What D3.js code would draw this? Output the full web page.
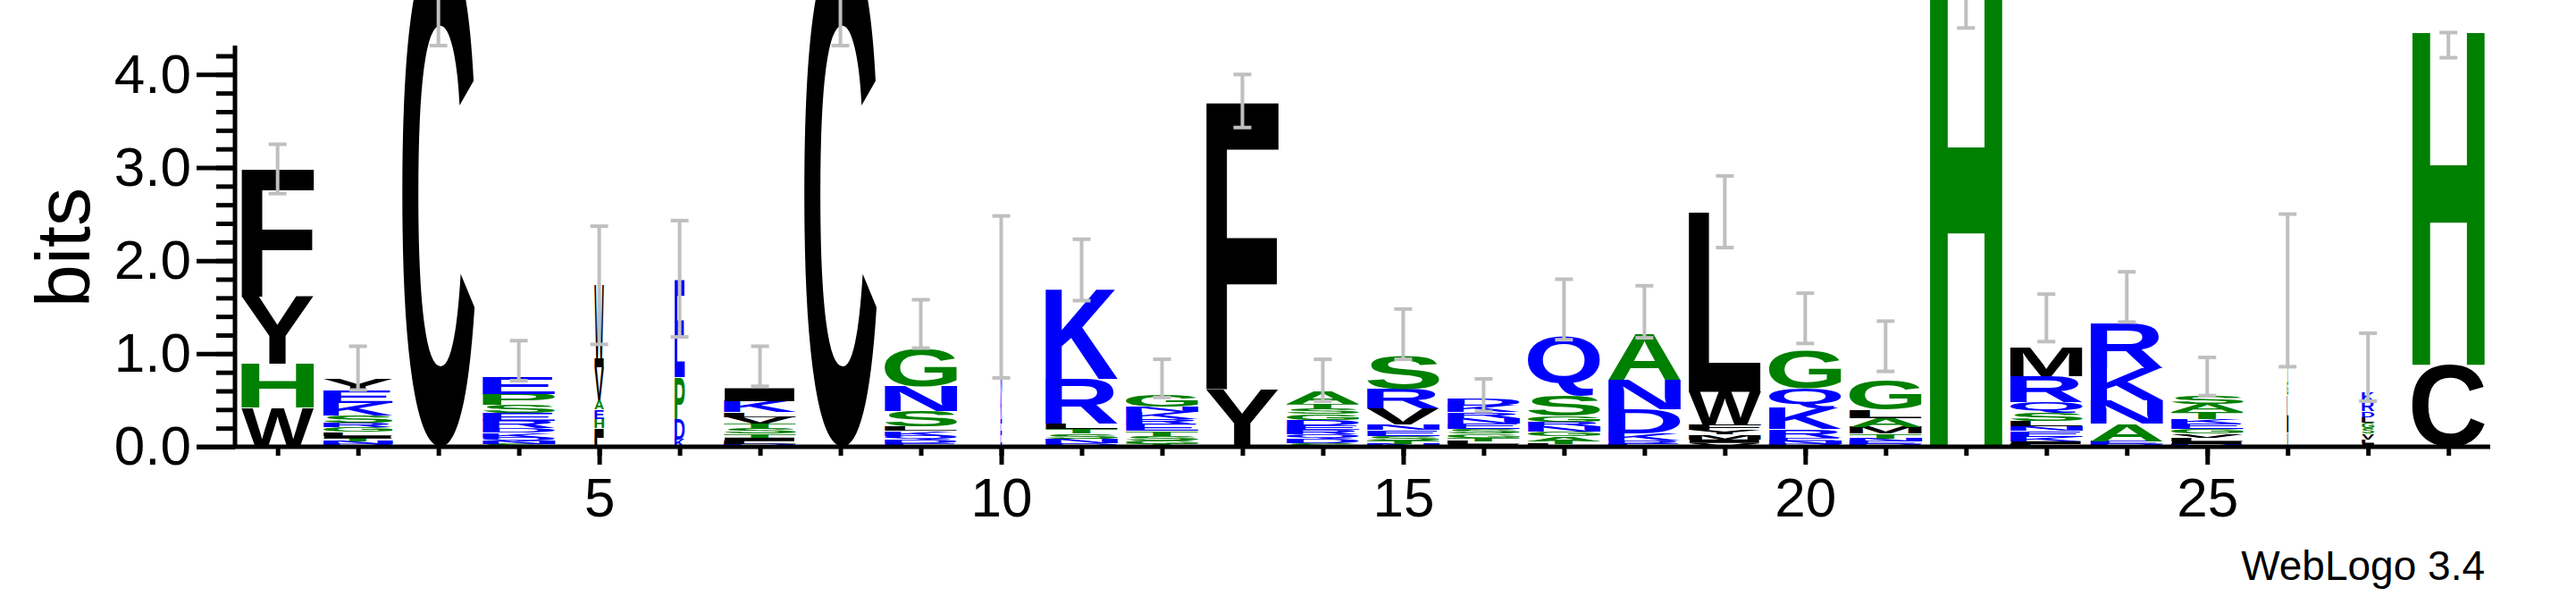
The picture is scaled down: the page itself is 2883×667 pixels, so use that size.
<!DOCTYPE html>
<html>
<head>
<meta charset="utf-8">
<script src="https://cdn.jsdelivr.net/npm/d3@7"></script>
<style>
body { margin: 0; background: #fff; }
</style>
</head>
<body>
<script>
// positions 1..28, stacks listed bottom to top as [letter, bits]
let positions = d3.range(1, 29)
let widthFrac = [1,0.96,1,1,0.13,0.14,1,1,1,0.02,1,1,1,1,1,1,1,1,1,1,1,1,1,1,1,0.02,0.17,1]
let stacks = [
  [["W",0.42],["H",0.47],["Y",0.72],["F",1.37]],
  [["D",0.03],["N",0.03],["T",0.03],["I",0.03],["L",0.04],["G",0.05],["R",0.05],["S",0.08],["K",0.13],["E",0.13],["Y",0.14]],
  [["C",5.4]],
  [["S",0.03],["N",0.03],["Q",0.04],["K",0.05],["D",0.05],["R",0.08],["E",0.08],["S",0.09],["P",0.12],["E",0.18]],
  [["L",0.1],["I",0.1],["H",0.1],["E",0.1],["A",0.1],["V",0.35],["I",0.1],["W",0.78]],
  [["K",0.08],["D",0.22],["P",0.45],["E",1.05]],
  [["D",0.03],["L",0.03],["I",0.04],["T",0.04],["S",0.06],["T",0.05],["V",0.07],["L",0.05],["K",0.12],["I",0.14]],
  [["C",5.4]],
  [["E",0.04],["D",0.04],["Q",0.04],["K",0.05],["L",0.05],["S",0.16],["N",0.27],["G",0.4]],
  [["E",0.3],["K",0.3],["N",0.3],["D",0.7]],
  [["D",0.04],["N",0.05],["S",0.05],["T",0.05],["L",0.06],["R",0.48],["K",0.97]],
  [["T",0.03],["G",0.04],["S",0.05],["T",0.05],["E",0.07],["R",0.06],["K",0.07],["N",0.06],["G",0.13]],
  [["Y",0.62],["F",3.1]],
  [["S",0.04],["D",0.05],["Q",0.04],["R",0.05],["E",0.05],["D",0.06],["G",0.06],["S",0.06],["T",0.05],["A",0.13]],
  [["N",0.03],["T",0.04],["S",0.05],["E",0.06],["N",0.06],["V",0.17],["R",0.21],["S",0.35]],
  [["I",0.03],["L",0.03],["T",0.04],["G",0.04],["S",0.05],["E",0.06],["N",0.06],["R",0.06],["K",0.07],["D",0.07]],
  [["L",0.03],["T",0.03],["A",0.05],["G",0.05],["N",0.06],["R",0.05],["G",0.06],["S",0.22],["Q",0.64]],
  [["E",0.03],["R",0.04],["K",0.07],["D",0.26],["N",0.32],["A",0.5]],
  [["V",0.04],["I",0.04],["M",0.05],["Y",0.05],["F",0.06],["W",0.35],["L",1.93]],
  [["D",0.03],["N",0.03],["E",0.04],["R",0.09],["K",0.23],["Q",0.21],["G",0.4]],
  [["D",0.03],["E",0.03],["N",0.03],["T",0.05],["M",0.07],["A",0.1],["L",0.09],["G",0.32]],
  [["H",5.4]],
  [["L",0.03],["I",0.03],["K",0.05],["E",0.06],["N",0.05],["L",0.06],["S",0.09],["Q",0.11],["R",0.28],["M",0.31]],
  [["D",0.03],["E",0.03],["A",0.19],["N",0.25],["K",0.34],["R",0.48]],
  [["D",0.03],["I",0.03],["L",0.04],["V",0.04],["G",0.05],["E",0.06],["K",0.05],["T",0.07],["A",0.09],["S",0.09]],
  [["V",0.15],["I",0.15],["L",0.25],["G",0.15],["T",0.4],["A",0.2],["S",0.3],["H",0.12]],
  [["I",0.04],["L",0.04],["V",0.06],["S",0.06],["G",0.06],["L",0.06],["D",0.06],["R",0.11],["K",0.1]],
  [["C",0.88],["H",3.6]]
]
let errLo = [2.72,0.61,4.31,0.71,1.1,1.18,0.65,4.31,1.06,0.74,1.57,0.53,3.43,0.49,0.94,0.38,1.15,1.17,2.14,1.11,0.81,4.5,1.13,1.34,0.55,0.86,0.49,4.18]
let errHi = [3.25,1.08,6.3,1.14,2.37,2.43,1.08,6.3,1.58,2.48,2.23,0.94,4.0,0.94,1.48,0.73,1.8,1.73,2.91,1.65,1.35,6.3,1.64,1.88,0.96,2.5,1.22,4.45]
let yTicks = [0, 1, 2, 3, 4]
let xTicks = [5, 10, 15, 20, 25]

let colorOf = l => "RKDENQ".includes(l) ? "#0000ff" : ("SGHTAP".includes(l) ? "#008000" : "#000000")

let W = 2883, H = 667
let svg = d3.select("body").append("svg").attr("width", W).attr("height", H)

let x = d3.scaleLinear().domain([0.47, 28.52]).range([263, 2787])
let y = d3.scaleLinear().domain([0, 4.32]).range([500, 50])
let colW = (x(2) - x(1)) * 0.9

// tight glyph metrics from canvas
let ctx = document.createElement("canvas").getContext("2d")
let FS = 200
ctx.font = `bold ${FS}px 'Liberation Sans', Arial, sans-serif`
let metrics = {}
let metric = l => {
  if (!metrics[l]) {
    let m = ctx.measureText(l)
    metrics[l] = {l: m.actualBoundingBoxLeft, r: m.actualBoundingBoxRight,
                  a: m.actualBoundingBoxAscent, d: m.actualBoundingBoxDescent}
  }
  return metrics[l]
}

let letters = []
stacks.forEach((st, i) => {
  let base = 0
  let w = colW * widthFrac[i]
  st.forEach(([l, h]) => {
    letters.push({l, pos: positions[i], w, y0: base, y1: base + h})
    base += h
  })
})

svg.append("g").selectAll("text")
  .data(letters)
  .enter()
  .append("text")
  .attr("font-family", "'Liberation Sans', Arial, sans-serif")
  .attr("font-weight", "bold")
  .attr("font-size", FS)
  .attr("fill", d => colorOf(d.l))
  .attr("transform", d => {
    let m = metric(d.l)
    let top = y(d.y1), hPx = y(d.y0) - y(d.y1)
    let sx = d.w / (m.l + m.r), sy = hPx / (m.a + m.d)
    let x0 = x(d.pos) - d.w / 2
    return `translate(${x0 + m.l * sx},${top + m.a * sy}) scale(${sx},${sy})`
  })
  .text(d => d.l)

// error bars
let eb = svg.append("g").attr("stroke", "#bfbfbf").attr("stroke-width", 4)
positions.forEach((p, i) => {
  eb.append("line").attr("x1", x(p)).attr("x2", x(p)).attr("y1", y(errLo[i])).attr("y2", y(errHi[i]))
  ;[errLo[i], errHi[i]].forEach(v => {
    eb.append("line").attr("x1", x(p) - 10).attr("x2", x(p) + 10).attr("y1", y(v)).attr("y2", y(v))
  })
})

// axes
let font = "'Liberation Sans', Arial, sans-serif"
let yMinor = svg.append("g").attr("transform", "translate(263,0)")
  .call(d3.axisLeft(y).tickValues(d3.range(0, 4.31, 0.2)).tickSize(21).tickFormat(""))
let yMajor = svg.append("g").attr("transform", "translate(263,0)")
  .call(d3.axisLeft(y).tickValues(yTicks).tickSize(43).tickPadding(6).tickFormat(d3.format(".1f")))
let xMinor = svg.append("g").attr("transform", "translate(0,500)")
  .call(d3.axisBottom(x).tickValues(positions).tickSize(10).tickFormat(""))
let xMajor = svg.append("g").attr("transform", "translate(0,500)")
  .call(d3.axisBottom(x).tickValues(xTicks).tickSize(20).tickPadding(14))
;[yMinor, yMajor, xMinor, xMajor].forEach(g => {
  g.select(".domain").attr("stroke-width", 5).attr("d", null)
  g.selectAll(".tick line").attr("stroke-width", 5)
  g.selectAll("text").attr("font-family", font).attr("font-size", 62).attr("fill", "#000")
})
svg.append("line").attr("x1", 263).attr("x2", 263).attr("y1", 51).attr("y2", 502).attr("stroke", "#000").attr("stroke-width", 5)
svg.append("line").attr("x1", 220).attr("x2", 2787).attr("y1", 500).attr("y2", 500).attr("stroke", "#000").attr("stroke-width", 5)

svg.append("text")
  .attr("transform", "translate(100,277) rotate(-90)")
  .attr("text-anchor", "middle")
  .attr("font-family", font).attr("font-size", 86)
  .text("bits")

svg.append("text")
  .attr("x", 2781).attr("y", 649).attr("text-anchor", "end")
  .attr("font-family", font).attr("font-size", 46)
  .text("WebLogo 3.4")
</script>
</body>
</html>
